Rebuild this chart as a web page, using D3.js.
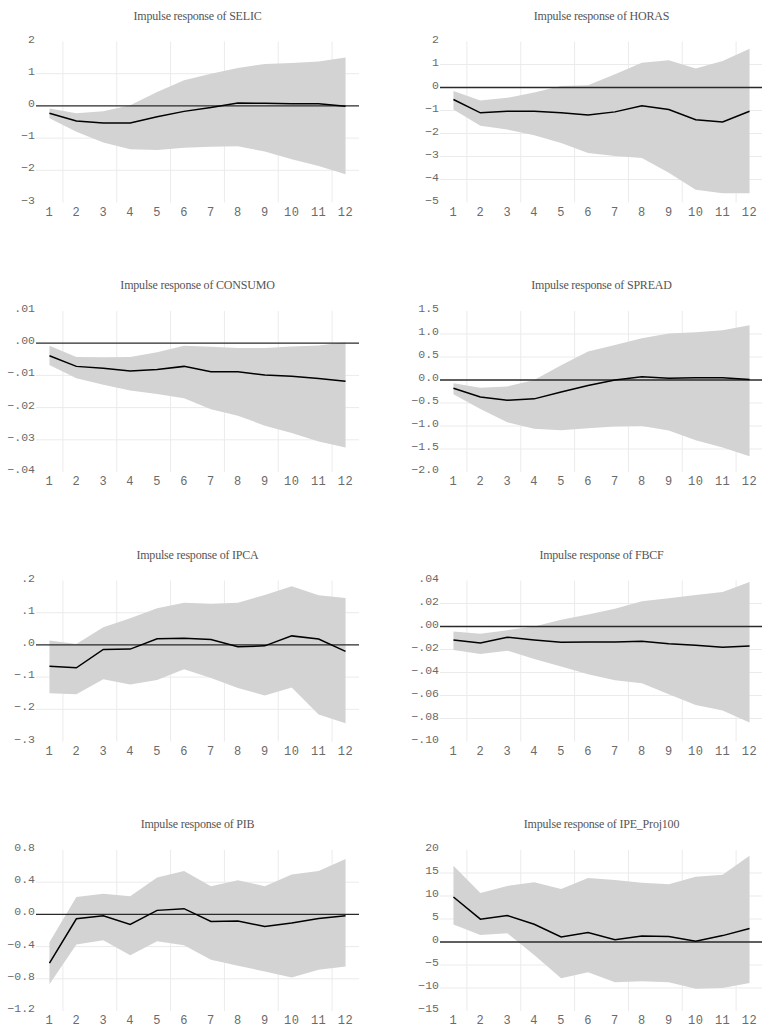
<!DOCTYPE html>
<html>
<head>
<meta charset="utf-8">
<script src="https://cdn.jsdelivr.net/npm/d3@7"></script>
<style>
  html, body { margin: 0; padding: 0; background: #fff; }
  svg { display: block; }
</style>
</head>
<body>
<svg id="chart" width="762" height="1032"></svg>
<script>
// ---- Data ----
const periods = [1,2,3,4,5,6,7,8,9,10,11,12];

const titles = ["SELIC", "HORAS", "CONSUMO", "SPREAD", "IPCA", "FBCF", "PIB", "IPE_Proj100"];

// SELIC
const selicIrf   = [-0.23,-0.47,-0.53,-0.53,-0.34,-0.17,-0.05,0.09,0.08,0.07,0.07,-0.01];
const selicUpper = [-0.08,-0.23,-0.17,0.02,0.43,0.80,1.00,1.18,1.30,1.33,1.38,1.50];
const selicLower = [-0.38,-0.80,-1.14,-1.35,-1.37,-1.30,-1.27,-1.25,-1.42,-1.66,-1.87,-2.12];
// HORAS
const horasIrf   = [-0.52,-1.10,-1.03,-1.03,-1.10,-1.20,-1.06,-0.79,-0.96,-1.40,-1.50,-1.03];
const horasUpper = [-0.15,-0.57,-0.45,-0.22,0.07,0.10,0.58,1.08,1.19,0.83,1.15,1.69];
const horasLower = [-0.96,-1.66,-1.83,-2.08,-2.41,-2.85,-2.98,-3.07,-3.71,-4.45,-4.60,-4.60];
// CONSUMO
const consumoIrf   = [-0.0039,-0.0072,-0.0078,-0.0086,-0.0082,-0.0072,-0.0089,-0.0089,-0.0099,-0.0103,-0.0110,-0.0118];
const consumoUpper = [-0.0008,-0.0043,-0.0044,-0.0043,-0.0028,-0.0008,-0.0011,-0.0015,-0.0015,-0.0010,-0.0007,0.0003];
const consumoLower = [-0.0068,-0.0109,-0.0129,-0.0147,-0.0158,-0.0171,-0.0205,-0.0225,-0.0256,-0.0279,-0.0305,-0.0324];
// SPREAD
const spreadIrf   = [-0.18,-0.37,-0.44,-0.41,-0.26,-0.12,0.00,0.07,0.04,0.05,0.05,0.01];
const spreadUpper = [-0.07,-0.17,-0.14,0.00,0.32,0.62,0.76,0.91,1.01,1.04,1.08,1.19];
const spreadLower = [-0.31,-0.63,-0.92,-1.06,-1.09,-1.05,-1.01,-1.00,-1.10,-1.31,-1.47,-1.66];
// IPCA
const ipcaIrf   = [-0.066,-0.071,-0.014,-0.013,0.019,0.021,0.017,-0.006,-0.003,0.028,0.018,-0.020];
const ipcaUpper = [0.014,0.003,0.055,0.083,0.114,0.131,0.128,0.131,0.155,0.182,0.154,0.146];
const ipcaLower = [-0.150,-0.153,-0.107,-0.123,-0.109,-0.076,-0.103,-0.134,-0.157,-0.132,-0.216,-0.243];
// FBCF
const fbcfIrf   = [-0.0117,-0.0143,-0.0093,-0.0117,-0.0137,-0.0134,-0.0134,-0.0128,-0.0149,-0.0164,-0.0181,-0.0169];
const fbcfUpper = [-0.0044,-0.0064,-0.0032,0.0000,0.0058,0.0105,0.0155,0.0219,0.0245,0.0274,0.0300,0.0388];
const fbcfLower = [-0.0204,-0.0239,-0.0210,-0.0283,-0.0347,-0.0415,-0.0467,-0.0493,-0.0590,-0.0683,-0.0730,-0.0835];
// PIB
const pibIrf   = [-0.604,-0.054,-0.017,-0.125,0.050,0.071,-0.088,-0.083,-0.150,-0.108,-0.050,-0.017];
const pibUpper = [-0.346,0.217,0.258,0.225,0.458,0.538,0.350,0.425,0.350,0.496,0.538,0.688];
const pibLower = [-0.867,-0.375,-0.320,-0.508,-0.333,-0.383,-0.563,-0.638,-0.708,-0.783,-0.688,-0.646];
// IPE_Proj100
const ipeIrf   = [9.78,4.96,5.77,3.87,1.09,2.04,0.51,1.31,1.17,0.15,1.39,2.92];
const ipeUpper = [16.6,10.66,12.19,13.0,11.53,13.94,13.5,12.9,12.55,14.2,14.6,18.76];
const ipeLower = [3.8,1.53,1.9,-2.85,-7.88,-6.57,-8.76,-8.54,-8.76,-10.15,-10.0,-8.9];

// y tick values and labels for each panel
const selicTicks = [-3,-2,-1,0,1,2];
const selicLabels = ["−3","−2","−1","0","1","2"];
const horasTicks = [-5,-4,-3,-2,-1,0,1,2];
const horasLabels = ["−5","−4","−3","−2","−1","0","1","2"];
const consumoTicks = [-0.04,-0.03,-0.02,-0.01,0,0.01];
const consumoLabels = ["−.04","−.03","−.02","−.01",".00",".01"];
const spreadTicks = [-2,-1.5,-1,-0.5,0,0.5,1,1.5];
const spreadLabels = ["−2.0","−1.5","−1.0","−0.5","0.0","0.5","1.0","1.5"];
const ipcaTicks = [-0.3,-0.2,-0.1,0,0.1,0.2];
const ipcaLabels = ["−.3","−.2","−.1",".0",".1",".2"];
const fbcfTicks = [-0.10,-0.08,-0.06,-0.04,-0.02,0,0.02,0.04];
const fbcfLabels = ["−.10","−.08","−.06","−.04","−.02",".00",".02",".04"];
const pibTicks = [-1.2,-0.8,-0.4,0,0.4,0.8];
const pibLabels = ["−1.2","−0.8","−0.4","0.0","0.4","0.8"];
const ipeTicks = [-15,-10,-5,0,5,10,15,20];
const ipeLabels = ["−15","−10","−5","0","5","10","15","20"];

const xGridAt = [1.5,3.5,5.5,7.5,9.5,11.5];

// ---- Panel assembly ----
const panels = [
  {title: titles[0], irf: selicIrf, up: selicUpper, lo: selicLower, ticks: selicTicks, labels: selicLabels},
  {title: titles[1], irf: horasIrf, up: horasUpper, lo: horasLower, ticks: horasTicks, labels: horasLabels},
  {title: titles[2], irf: consumoIrf, up: consumoUpper, lo: consumoLower, ticks: consumoTicks, labels: consumoLabels},
  {title: titles[3], irf: spreadIrf, up: spreadUpper, lo: spreadLower, ticks: spreadTicks, labels: spreadLabels},
  {title: titles[4], irf: ipcaIrf, up: ipcaUpper, lo: ipcaLower, ticks: ipcaTicks, labels: ipcaLabels},
  {title: titles[5], irf: fbcfIrf, up: fbcfUpper, lo: fbcfLower, ticks: fbcfTicks, labels: fbcfLabels},
  {title: titles[6], irf: pibIrf, up: pibUpper, lo: pibLower, ticks: pibTicks, labels: pibLabels},
  {title: titles[7], irf: ipeIrf, up: ipeUpper, lo: ipeLower, ticks: ipeTicks, labels: ipeLabels},
];

const svg = d3.select("#chart");
const colLeft = [36, 440];
const plotW = 323;
const rowTop = [41.5, 311, 580.5, 850];
const plotH = 161;

panels.forEach((p, i) => {
  const col = i % 2, row = Math.floor(i / 2);
  const left = colLeft[col], top = rowTop[row];
  const g = svg.append("g");

  const x = d3.scaleLinear().domain([0.5, 12.5]).range([left, left + plotW]);
  const y = d3.scaleLinear().domain([p.ticks[0], p.ticks[p.ticks.length - 1]]).range([top + plotH, top]);

  // horizontal gridlines (inner ticks)
  g.selectAll("line.hg").data(p.ticks.slice(1, -1).filter(v => v !== 0)).join("line")
    .attr("x1", left).attr("x2", left + plotW)
    .attr("y1", d => y(d)).attr("y2", d => y(d))
    .attr("stroke", "#ebebeb").attr("stroke-width", 1);
  // vertical gridlines
  g.selectAll("line.vg").data(xGridAt).join("line")
    .attr("x1", d => x(d)).attr("x2", d => x(d))
    .attr("y1", top).attr("y2", top + plotH)
    .attr("stroke", "#ebebeb").attr("stroke-width", 1);

  // confidence band
  const area = d3.area()
    .x((d, k) => x(periods[k]))
    .y0((d, k) => y(p.lo[k]))
    .y1((d, k) => y(p.up[k]));
  g.append("path").datum(periods).attr("d", area).attr("fill", "#d3d3d3");

  // zero line
  g.append("line")
    .attr("x1", left).attr("x2", left + plotW)
    .attr("y1", y(0)).attr("y2", y(0))
    .attr("stroke", "#2a2a2a").attr("stroke-width", 1.3);

  // IRF line
  const line = d3.line().x((d, k) => x(periods[k])).y(d => y(d));
  g.append("path").datum(p.irf).attr("d", line)
    .attr("fill", "none").attr("stroke", "#000").attr("stroke-width", 1.5);

  // y tick labels
  g.selectAll("text.yl").data(p.ticks).join("text")
    .attr("x", left - 1).attr("y", d => y(d) + 1)
    .attr("text-anchor", "end")
    .attr("font-family", "'Liberation Mono', monospace")
    .attr("font-size", 11.5).attr("fill", "#6a6a6a")
    .text((d, k) => p.labels[k]);

  // x tick labels
  g.selectAll("text.xl").data(periods).join("text")
    .attr("x", d => x(d)).attr("y", top + plotH + 13)
    .attr("text-anchor", "middle")
    .attr("font-family", "'Liberation Mono', monospace")
    .attr("font-size", 12).attr("fill", "#6a6a6a")
    .attr("letter-spacing", 0.5)
    .text(d => d);

  // title
  g.append("text")
    .attr("x", left + plotW / 2).attr("y", top - 22)
    .attr("text-anchor", "middle")
    .attr("font-family", "'Liberation Serif', serif")
    .attr("font-size", 12).attr("fill", "#555")
    .attr("letter-spacing", -0.2)
    .text("Impulse response of " + p.title);
});
</script>
</body>
</html>
